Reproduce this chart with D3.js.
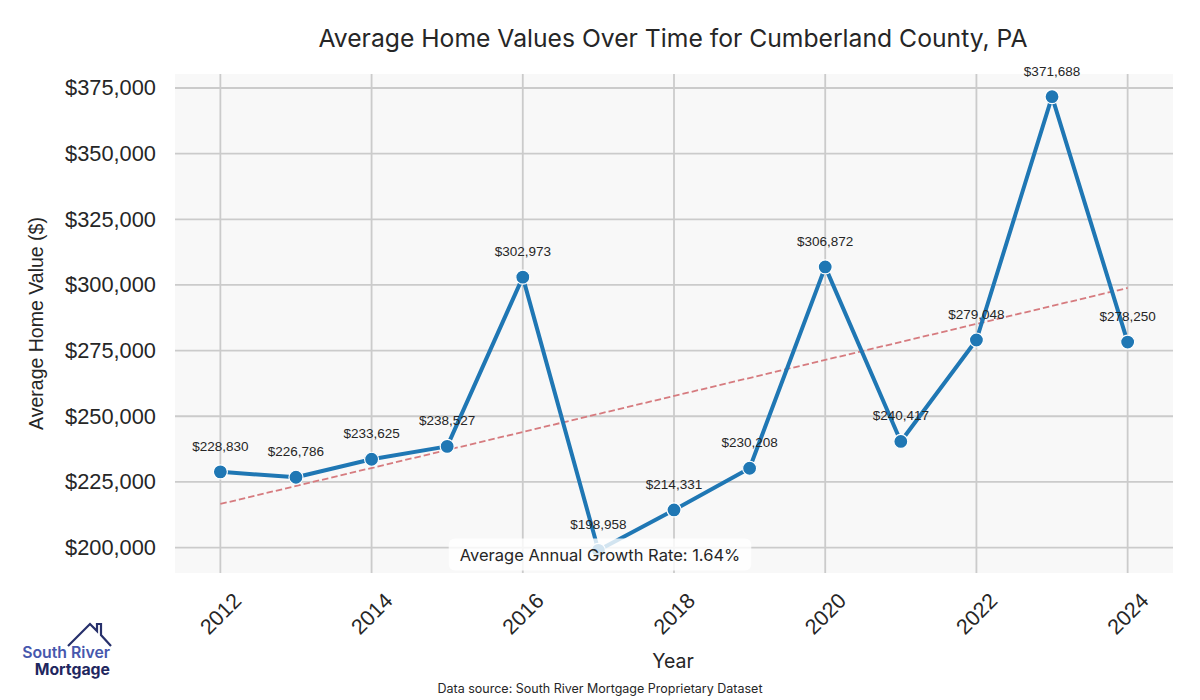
<!DOCTYPE html>
<html>
<head>
<meta charset="utf-8">
<script src="https://cdn.jsdelivr.net/npm/d3@7"></script>
<style>
  body { margin: 0; background: #fff; }
  svg { display: block; }
</style>
</head>
<body>
<svg id="chart"></svg>
<script>
// values
const years = [2012, 2013, 2014, 2015, 2016, 2017, 2018, 2019, 2020, 2021, 2022, 2023, 2024];
const homeValues = [228830, 226786, 233625, 238527, 302973, 198958, 214331, 230208, 306872, 240417, 279048, 371688, 278250];
const yearTicks = [2012, 2014, 2016, 2018, 2020, 2022, 2024];
const valueTicks = [200000, 225000, 250000, 275000, 300000, 325000, 350000, 375000];

const titleText = 'Average Home Values Over Time for Cumberland County, PA';
const sourceText = 'Data source: South River Mortgage Proprietary Dataset';

const width = 1200, height = 700;
const margin = { top: 74, right: 27, bottom: 127, left: 175 };
const innerW = width - margin.left - margin.right;
const innerH = height - margin.top - margin.bottom;

const sansUI = 'Inter, Lato, sans-serif';
const sansArial = '"Liberation Sans", Arial, sans-serif';

const svg = d3.select('#chart').attr('width', width).attr('height', height);

// matplotlib-ish 5% padding on both axes
const xPad = (d3.max(years) - d3.min(years)) * 0.05;
const yMin = d3.min(homeValues), yMax = d3.max(homeValues);
const yPad = (yMax - yMin) * 0.05;

const x = d3.scaleLinear()
  .domain([d3.min(years) - xPad, d3.max(years) + xPad])
  .range([0, innerW]);
const y = d3.scaleLinear()
  .domain([yMin - yPad, yMax + yPad])
  .range([innerH, 0]);

const chart = svg.append('g').attr('transform', `translate(${margin.left},${margin.top})`);

chart.append('rect')
  .attr('width', innerW).attr('height', innerH)
  .attr('fill', '#f8f8f8');

// grid
chart.selectAll('.vgrid').data(yearTicks).enter().append('line')
  .attr('class', 'vgrid')
  .attr('x1', d => x(d)).attr('x2', d => x(d))
  .attr('y1', 0).attr('y2', innerH)
  .attr('stroke', '#cbcbcb').attr('stroke-width', 1.8);
chart.selectAll('.hgrid').data(valueTicks).enter().append('line')
  .attr('class', 'hgrid')
  .attr('x1', 0).attr('x2', innerW)
  .attr('y1', d => y(d)).attr('y2', d => y(d))
  .attr('stroke', '#cbcbcb').attr('stroke-width', 1.8);

// axes (tick text only, no domain lines)
const fmtMoney = d3.format('$,');
const yAxis = chart.append('g')
  .call(d3.axisLeft(y).tickValues(valueTicks).tickFormat(fmtMoney).tickSize(0).tickPadding(19));
yAxis.select('.domain').remove();
yAxis.selectAll('text')
  .attr('font-family', sansArial).attr('font-size', 21.8).attr('fill', '#262626');

const xAxis = chart.append('g').attr('transform', `translate(0,${innerH})`)
  .call(d3.axisBottom(x).tickValues(yearTicks).tickFormat(d3.format('d')).tickSize(0));
xAxis.select('.domain').remove();
xAxis.selectAll('text')
  .attr('font-family', sansArial).attr('font-size', 21.5).attr('fill', '#262626')
  .attr('y', 0).attr('dy', null)
  .attr('text-anchor', 'middle')
  .attr('dominant-baseline', 'central')
  .attr('transform', 'translate(0,41) rotate(-45)');

// least-squares trend line through the data
const xMean = d3.mean(years), yMean = d3.mean(homeValues);
const slope = d3.sum(years, (d, i) => (d - xMean) * (homeValues[i] - yMean)) /
  d3.sum(years, d => (d - xMean) ** 2);
const trend = years.map(d => yMean + slope * (d - xMean));

chart.append('line')
  .attr('x1', x(years[0])).attr('y1', y(trend[0]))
  .attr('x2', x(years[years.length - 1])).attr('y2', y(trend[trend.length - 1]))
  .attr('stroke', '#d67b7f').attr('stroke-width', 1.8)
  .attr('stroke-dasharray', '6.5,3');

const series = years.map((d, i) => ({ year: d, value: homeValues[i] }));

chart.append('path')
  .datum(series)
  .attr('fill', 'none')
  .attr('stroke', '#1f77b4').attr('stroke-width', 4)
  .attr('stroke-linejoin', 'round')
  .attr('d', d3.line().x(d => x(d.year)).y(d => y(d.value)));

chart.selectAll('.point').data(series).enter().append('circle')
  .attr('class', 'point')
  .attr('cx', d => x(d.year)).attr('cy', d => y(d.value))
  .attr('r', 7)
  .attr('fill', '#1f77b4')
  .attr('stroke', '#fff').attr('stroke-width', 1.2);

chart.selectAll('.val-label').data(series).enter().append('text')
  .attr('class', 'val-label')
  .attr('x', d => x(d.year)).attr('y', d => y(d.value) - 21)
  .attr('text-anchor', 'middle')
  .attr('font-family', sansArial).attr('font-size', 13.5).attr('fill', '#262626')
  .text(d => fmtMoney(d.value));

// growth rate annotation, centred on the figure
const cagr = Math.pow(homeValues[homeValues.length - 1] / homeValues[0], 1 / (years.length - 1)) - 1;
const note = svg.append('g').attr('transform', `translate(${width / 2},${margin.top + y(200000) + 7})`);
const noteText = note.append('text')
  .attr('text-anchor', 'middle').attr('dominant-baseline', 'central')
  .attr('font-family', sansUI).attr('font-size', 16.5).attr('fill', '#262626')
  .text(`Average Annual Growth Rate: ${(cagr * 100).toFixed(2)}%`);
const bb = noteText.node().getBBox();
note.insert('rect', 'text')
  .attr('x', bb.x - 11).attr('y', bb.y - 6)
  .attr('width', bb.width + 22).attr('height', bb.height + 12)
  .attr('rx', 6)
  .attr('fill', '#fff').attr('fill-opacity', 0.8);

// titles
svg.append('text')
  .attr('x', 673).attr('y', 47)
  .attr('text-anchor', 'middle')
  .attr('font-family', sansUI).attr('font-size', 24.7).attr('fill', '#262626')
  .text(titleText);

svg.append('text')
  .attr('transform', `translate(43,${margin.top + innerH / 2}) rotate(-90)`)
  .attr('text-anchor', 'middle')
  .attr('font-family', sansArial).attr('font-size', 19.5).attr('fill', '#262626')
  .text('Average Home Value ($)');

svg.append('text')
  .attr('x', 673).attr('y', 668)
  .attr('text-anchor', 'middle')
  .attr('font-family', sansUI).attr('font-size', 19.5).attr('fill', '#262626')
  .text('Year');

svg.append('text')
  .attr('x', 600).attr('y', 693)
  .attr('text-anchor', 'middle')
  .attr('font-family', sansUI).attr('font-size', 12.5).attr('fill', '#262626')
  .text(sourceText);

// logo
const logo = svg.append('g');
logo.append('path')
  .attr('d', 'M68,646 L90,624 L97,631 L97,624 L101,624 L101,635 L111,646')
  .attr('fill', 'none').attr('stroke', '#27306b').attr('stroke-width', 2.2)
  .attr('stroke-linejoin', 'miter');
logo.append('text')
  .attr('x', 110).attr('y', 658).attr('text-anchor', 'end')
  .attr('font-family', sansUI).attr('font-weight', 600).attr('font-size', 15.8)
  .attr('fill', '#4657ad')
  .text('South River');
logo.append('text')
  .attr('x', 110).attr('y', 675).attr('text-anchor', 'end')
  .attr('font-family', sansUI).attr('font-weight', 700).attr('font-size', 15.8)
  .attr('fill', '#1f2760')
  .text('Mortgage');
</script>
</body>
</html>
